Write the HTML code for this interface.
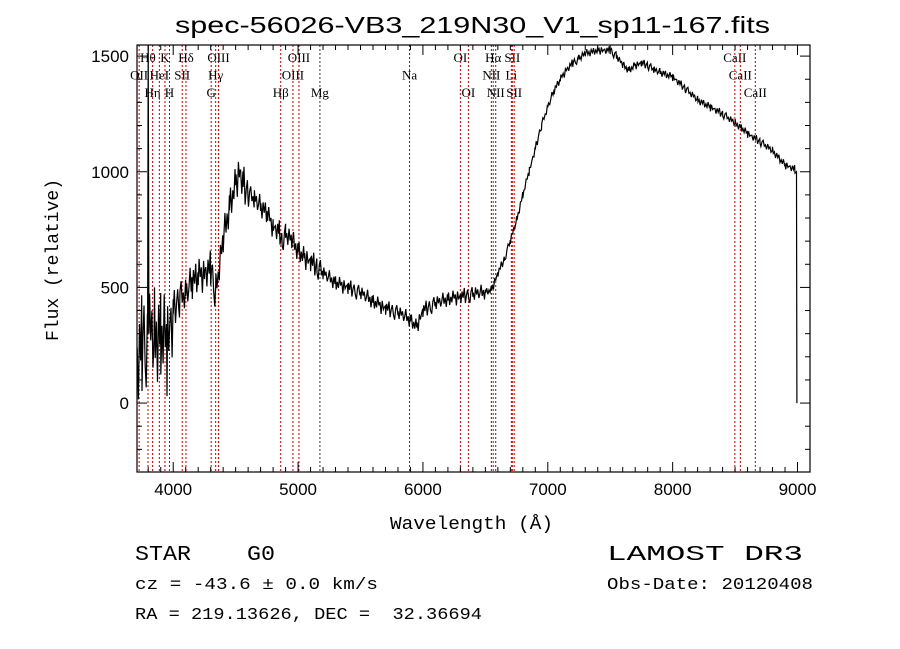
<!DOCTYPE html>
<html><head><meta charset="utf-8"><style>
html,body{margin:0;padding:0;background:#fff;width:900px;height:649px;overflow:hidden}
svg{display:block}
text{white-space:pre}
</style></head><body>
<svg id="chart" width="900" height="649" xmlns="http://www.w3.org/2000/svg" xml:space="preserve">
<text x="175" y="33" textLength="595" lengthAdjust="spacingAndGlyphs" font-family="Liberation Sans, sans-serif" font-size="23">spec-56026-VB3_219N30_V1_sp11-167.fits</text>
<text x="390" y="529" textLength="163" lengthAdjust="spacingAndGlyphs" font-family="Liberation Mono, monospace" font-size="18">Wavelength (Å)</text>
<text transform="translate(58,341) rotate(-90)" textLength="162" lengthAdjust="spacingAndGlyphs" font-family="Liberation Mono, monospace" font-size="18">Flux (relative)</text>
<text x="135" y="560" textLength="140" lengthAdjust="spacingAndGlyphs" font-family="Liberation Mono, monospace" font-size="21">STAR    G0</text>
<text x="135" y="589" textLength="243" lengthAdjust="spacingAndGlyphs" font-family="Liberation Mono, monospace" font-size="17">cz = -43.6 ± 0.0 km/s</text>
<text x="135" y="619" textLength="347" lengthAdjust="spacingAndGlyphs" font-family="Liberation Mono, monospace" font-size="17">RA = 219.13626, DEC =  32.36694</text>
<text x="607" y="560" textLength="196" lengthAdjust="spacingAndGlyphs" font-family="Liberation Mono, monospace" font-size="21">LAMOST DR3</text>
<text x="607" y="589" textLength="206" lengthAdjust="spacingAndGlyphs" font-family="Liberation Mono, monospace" font-size="17">Obs-Date: 20120408</text>
</svg>
<script>
const xTicks=[4000,5000,6000,7000,8000,9000];
const yTicks=[0,500,1000,1500];
const wl=[3700,3750,3795,3800,3805,3850,3900,3950,4000,4050,4100,4150,4200,4250,4300,4340,4400,4450,4500,4530,4560,4600,4650,4700,4750,4800,4850,4870,4900,4950,5000,5050,5100,5150,5200,5300,5400,5500,5600,5700,5800,5900,5950,6000,6100,6200,6300,6400,6500,6550,6600,6650,6700,6750,6800,6850,6900,6950,7000,7050,7100,7150,7200,7250,7300,7400,7500,7550,7600,7650,7700,7750,7800,7850,7900,8000,8100,8200,8300,8400,8500,8550,8600,8700,8800,8900,8980,8990,8995];
const flux=[150,250,300,1600,300,280,300,250,400,450,470,520,550,560,580,480,700,850,950,1000,950,900,880,850,820,760,740,700,730,700,660,630,610,590,560,520,500,475,440,410,390,360,330,400,430,450,460,470,480,490,560,620,700,790,900,1000,1100,1200,1280,1350,1400,1440,1470,1490,1510,1525,1525,1500,1460,1440,1460,1470,1460,1440,1430,1410,1360,1310,1280,1250,1210,1190,1165,1130,1090,1030,1010,1000,0];
const noisePattern=[0.3,-0.8,0.6,-0.2,1.0,-0.9,0.1,0.7,-0.5,-1.0,0.4,0.9,-0.3,0.2,-0.7,0.8,-0.1,0.5,-0.6,0.0,1.0,-0.4,0.3,-0.9,0.6,-0.2,0.8,-0.8,0.2,-0.5,0.9,-0.1,0.4,-1.0,0.7,-0.3,0.1];
const noiseEdges=[3700,4000,4600,5200,6500,9000];
const noiseAmp=[220,80,50,35,18];
const lineWl=[3727,3798,3835,3889,3934,3970,4072,4102,4304,4340,4363,4861,4959,5007,5175,5893,6300,6364,6548,6563,6583,6708,6716,6731,8498,8542,8662];
const lineLabel=["OII","Hθ","Hη","HeI","K","H","SII","Hδ","G","Hγ","OIII","Hβ","OIII","OIII","Mg","Na","OI","OI","NII","Hα","NII","Li","SII","SII","CaII","CaII","CaII"];
const lineRow=[2,1,3,2,1,3,2,1,3,2,1,3,2,1,3,2,1,3,2,1,3,2,1,3,1,2,3];
const lineDark=[0,0,0,0,0,0,0,0,0,0,0,0,0,0,1,1,0,0,1,0,1,0,0,0,0,0,0];

const X0=137,X1=810,Y0=45,Y1=472;
const WMIN=3710,WMAX=9100,FMIN=-298,FMAX=1548;
function xs(w){return X0+(w-WMIN)/(WMAX-WMIN)*(X1-X0);}
function ys(f){return Y1-(f-FMIN)/(FMAX-FMIN)*(Y1-Y0);}
const svg=document.getElementById('chart');
const NS='http://www.w3.org/2000/svg';
function mk(t,a){const e=document.createElementNS(NS,t);for(const k in a)e.setAttribute(k,a[k]);svg.appendChild(e);return e;}

lineWl.forEach((w,i)=>{
  const l=mk('line',{x1:xs(w),x2:xs(w),y1:Y0,y2:Y1,stroke:lineDark[i]?'#333':'#c00000','stroke-width':1,'stroke-dasharray':'2,2'});
  
  
  const t=mk('text',{x:xs(w),y:Y0+17+(lineRow[i]-1)*17.5,'text-anchor':'middle','font-family':'Liberation Serif, serif','font-size':13});
  t.textContent=lineLabel[i];
  
  
});

function interp(w){for(let i=0;i<wl.length-1;i++){if(w>=wl[i]&&w<=wl[i+1]){return flux[i]+(flux[i+1]-flux[i])*(w-wl[i])/(wl[i+1]-wl[i]);}}return flux[flux.length-1];}
function amp(w){for(let i=0;i<noiseAmp.length;i++){if(w<noiseEdges[i+1])return noiseAmp[i];}return noiseAmp[noiseAmp.length-1];}
// sample grid plus all data knots
let samples=[];
for(let w=3712;w<=8985;w+=9)samples.push(w);
wl.forEach(w=>{if(w>=3712&&w<=8985)samples.push(w);});
samples.sort((a,b)=>a-b);
let d='';let k=0;
samples.forEach(w=>{
  let f=interp(w);
  if(Math.abs(w-3800)>6)f+=amp(w)*noisePattern[k%noisePattern.length];
  k++;
  f=Math.min(Math.max(f,FMIN),FMAX);
  d+=(d?'L':'M')+xs(w).toFixed(1)+','+ys(f).toFixed(1);
});
d+='L'+xs(8992).toFixed(1)+','+ys(1000).toFixed(1)+'L'+xs(8995).toFixed(1)+','+ys(0).toFixed(1);
const sp=mk('path',{d:d,fill:'none',stroke:'#000','stroke-width':1.2,'stroke-linejoin':'miter'});



const fr=mk('rect',{x:X0,y:Y0,width:X1-X0,height:Y1-Y0,fill:'none',stroke:'#000','stroke-width':1.2});



for(let w=3800;w<=9100;w+=100){
  const major=w%1000===0;const len=major?10:5;const x=xs(w);
  mk('line',{x1:x,x2:x,y1:Y1,y2:Y1-len,stroke:'#000'});
  mk('line',{x1:x,x2:x,y1:Y0,y2:Y0+len,stroke:'#000'});
}
xTicks.forEach(v=>{
  const t=mk('text',{x:xs(v),y:Y1+23,'text-anchor':'middle','font-family':'Liberation Sans, sans-serif','font-size':17});
  t.textContent=v;
  
  
});
for(let f=-200;f<=1500;f+=100){
  const major=f%500===0;const len=major?10:5;const y=ys(f);
  mk('line',{x1:X0,x2:X0+len,y1:y,y2:y,stroke:'#000'});
  mk('line',{x1:X1,x2:X1-len,y1:y,y2:y,stroke:'#000'});
}
yTicks.forEach(v=>{
  const t=mk('text',{x:X0-8,y:ys(v)+6,'text-anchor':'end','font-family':'Liberation Sans, sans-serif','font-size':17});
  t.textContent=v;
  
  
});
</script>
</body></html>
